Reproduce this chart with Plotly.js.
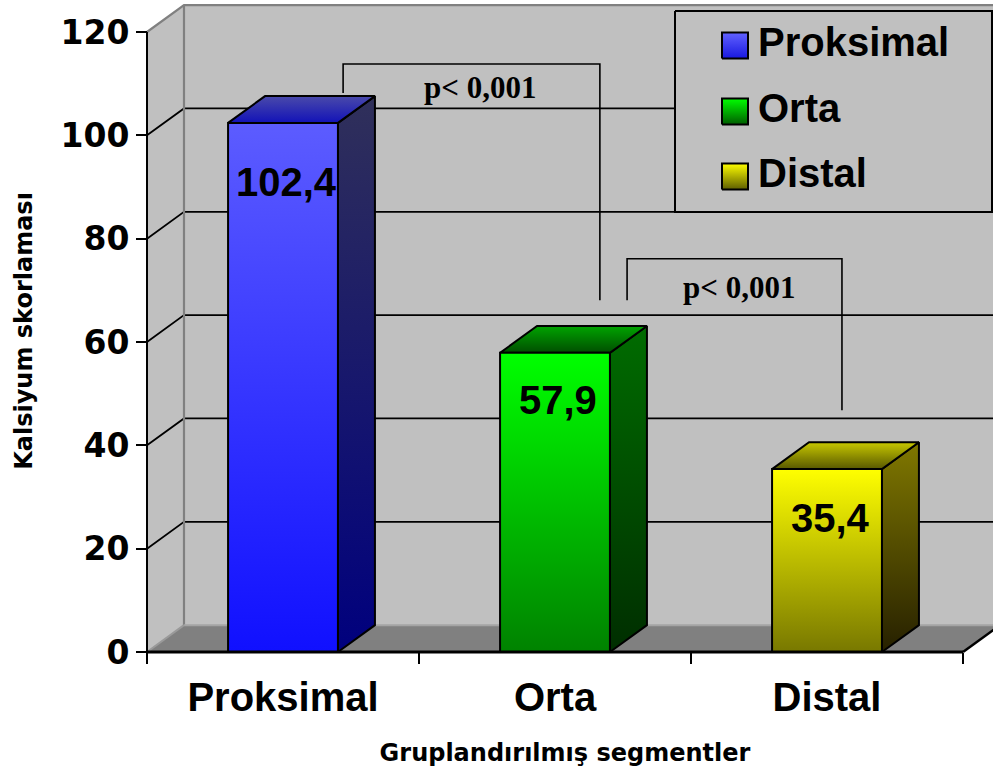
<!DOCTYPE html>
<html>
<head>
<meta charset="utf-8">
<script src="https://cdn.plot.ly/plotly-3.0.1.min.js"></script>
<style>
  html, body { margin: 0; padding: 0; background: #ffffff; }
  #chart { width: 993px; height: 773px; }
</style>
</head>
<body>
<div id="chart"></div>
<script>
// Mean calcium score per grouped segment
const segments = ['Proksimal', 'Orta', 'Distal'];
const scores = [102.4, 57.9, 35.4];
const yTicks = [0, 20, 40, 60, 80, 100, 120];
const pText = 'p< 0,001';

// ---- drawing constants ----
const BAR_W = 0.404;          // front face width (category units)
const DX = 0.136, DY = 5.2;   // 3-D depth offset (x units, y units)
const WALL_TOP = 120;
const X_FAR = 3.3;            // back wall runs past the right edge
const SANS = 'Liberation Sans, Arial, sans-serif';
const WIDE = 'DejaVu Sans, Verdana, sans-serif';
const SERIF = 'Liberation Serif, Times New Roman, serif';
const LABEL_SHIFT = [-59, -47, -49];   // vertical offset of each value label below its bar top (px)

// per-series face colours, listed bottom -> top
const faceColors = [
  { front: [[0, '#1010ff'], [1, '#5c5cff']], side: [[0, '#00007e'], [1, '#30305a']], top: [[0, '#1212b8'], [1, '#4a4aaa']] },
  { front: [[0, '#008200'], [1, '#00ff00']], side: [[0, '#002e00'], [1, '#006c00']], top: [[0, '#004e00'], [1, '#00a400']] },
  { front: [[0, '#787800'], [1, '#ffff00']], side: [[0, '#262000'], [1, '#807800']], top: [[0, '#585800'], [1, '#c8c800']] }
];
const legendColors = [
  [[0, '#1818e0'], [1, '#6262ff']],
  [[0, '#005c00'], [1, '#00ff00']],
  [[0, '#5e5e00'], [1, '#ffff00']]
];

// significance brackets: left x, right x, top y, left foot y, right foot y, label x, label y
const comparisonBrackets = [
  { x0: 0.221, x1: 1.165, top: 113.8, foot0: 108.2, foot1: 68.1, tx: 0.724, ty: 109.3 },
  { x0: 1.265, x1: 2.055, top: 76.1, foot0: 68.1, foot1: 46.8, tx: 1.677, ty: 70.5 }
];

function poly(xs, ys, fill, line) {
  return {
    type: 'scatter', mode: 'lines', x: xs, y: ys, fill: 'toself',
    fillcolor: fill, line: line || { width: 0 }, hoverinfo: 'skip', showlegend: false
  };
}
function gradPoly(xs, ys, scale, xa, ya) {
  const t = poly(xs, ys, scale[scale.length - 1][1], { color: '#000', width: 2 });
  t.fillgradient = { type: 'vertical', colorscale: scale };
  if (xa) { t.xaxis = xa; t.yaxis = ya; }
  return t;
}
function path(pts, color, width) {
  const xs = [], ys = [];
  pts.forEach(p => { if (p === null) { xs.push(null); ys.push(null); } else { xs.push(p[0]); ys.push(p[1]); } });
  return { type: 'scatter', mode: 'lines', x: xs, y: ys, line: { color: color, width: width },
           connectgaps: false, hoverinfo: 'skip', showlegend: false };
}

const L = -0.5, R = segments.length - 0.5;
const traces = [];

// walls (left side wall + back wall)
traces.push(poly([L, L + DX, X_FAR, X_FAR, L + DX, L, L],
                 [0, DY, DY, WALL_TOP + DY, WALL_TOP + DY, WALL_TOP, 0], '#c0c0c0'));

// gridlines running across the side wall and the back wall
const grid = [];
yTicks.filter(v => v > 0 && v < WALL_TOP).forEach(v => {
  grid.push([L, v], [L + DX, v + DY], [X_FAR, v + DY], null);
});
traces.push(path(grid, '#000000', 1.8));

// wall edges
traces.push(path([[L, WALL_TOP], [L + DX, WALL_TOP + DY], [X_FAR, WALL_TOP + DY], null,
                  [L + DX, DY], [L + DX, WALL_TOP + DY]], '#808080', 2.2));

// floor
traces.push(poly([L, R, R + DX, L + DX, L], [0, 0, DY, DY, 0], '#808080'));
traces.push(path([[L + DX, DY], [X_FAR, DY]], '#a4a4a4', 2));
traces.push(path([[L, 0], [L + DX, DY]], '#9a9a9a', 2));
traces.push(path([[R, 0], [R + DX, DY]], '#000000', 2.5));

// 3-D bars: front, side and top faces
scores.forEach((v, i) => {
  const a = i - BAR_W / 2, b = i + BAR_W / 2;
  const c = faceColors[i];
  traces.push(gradPoly([b, b + DX, b + DX, b, b], [0, DY, v + DY, v, 0], c.side));
  traces.push(gradPoly([a, b, b + DX, a + DX, a], [v, v, v + DY, v + DY, v], c.top));
  traces.push(gradPoly([a, b, b, a, a], [0, 0, v, v, 0], c.front));
});

// axis lines
traces.push(path([[L, 0], [R, 0]], '#000000', 3));
traces.push(path([[L, 0], [L, WALL_TOP]], '#000000', 2));

// brackets
comparisonBrackets.forEach(br => {
  traces.push(path([[br.x0, br.foot0], [br.x0, br.top], [br.x1, br.top], [br.x1, br.foot1]], '#000000', 1.6));
});

// legend, drawn on an overlay axis pair measured in pixels
const LG = { left: 675, right: 992, top: 11, bottom: 212, sqLeft: 722, sq: 26, textX: 758, rows: [45.5, 111.5, 176.5] };
traces.push(Object.assign(poly([LG.left, LG.right, LG.right, LG.left, LG.left],
                               [LG.top, LG.top, LG.bottom, LG.bottom, LG.top], '#c0c0c0',
                               { color: '#000', width: 2 }), { xaxis: 'x2', yaxis: 'y2' }));
segments.forEach((s, i) => {
  const cy = LG.rows[i], h = LG.sq / 2;
  traces.push(gradPoly([LG.sqLeft, LG.sqLeft + LG.sq, LG.sqLeft + LG.sq, LG.sqLeft, LG.sqLeft],
                       [cy + h, cy + h, cy - h, cy - h, cy + h], legendColors[i], 'x2', 'y2'));
});
traces.push({
  type: 'scatter', mode: 'text', xaxis: 'x2', yaxis: 'y2',
  x: segments.map(() => LG.textX), y: LG.rows, text: segments,
  textposition: 'middle right', cliponaxis: false,
  textfont: { family: SANS, size: 40, color: '#000', weight: 'bold' },
  hoverinfo: 'skip', showlegend: false
});

// value labels and p-value labels
const annotations = scores.map((v, i) => ({
  x: i, y: v, xref: 'x', yref: 'y', yshift: LABEL_SHIFT[i], xshift: 3, showarrow: false,
  text: v.toFixed(1).replace('.', ','),
  font: { family: SANS, size: 40, color: '#000', weight: 'bold' }
}));
comparisonBrackets.forEach(br => annotations.push({
  x: br.tx, y: br.ty, xref: 'x', yref: 'y', showarrow: false, text: pText,
  font: { family: SERIF, size: 31, color: '#000', weight: 'bold' }
}));

const PX_X = 272, PX_Y = 620 / 120;   // pixels per unit
const layout = {
  width: 993, height: 773,
  margin: { l: 137, r: 0, t: 0, b: 111, pad: 0 },
  paper_bgcolor: '#ffffff', plot_bgcolor: '#ffffff',
  showlegend: false, hovermode: false,
  xaxis: {
    range: [L - 10 / PX_X, L + 846 / PX_X], anchor: 'free', position: 10 / 662,
    tickmode: 'array', tickvals: segments.map((_, i) => i), ticktext: segments,
    ticks: '', showline: false, showgrid: false, zeroline: false, automargin: false,
    tickfont: { family: SANS, size: 40, color: '#000', weight: 'bold' },
    ticklabelstandoff: 18,
    minor: { tickmode: 'array', tickvals: [-0.5, 0.5, 1.5, 2.5], ticks: 'outside',
             ticklen: 11, tickwidth: 2, tickcolor: '#000', showgrid: false },
    title: { text: 'Gruplandırılmış segmentler', standoff: 26,
             font: { family: WIDE, size: 24, color: '#000', weight: 'bold' } }
  },
  yaxis: {
    range: [-10 / PX_Y, 652 / PX_Y], anchor: 'free', position: 10 / 856,
    tickmode: 'array', tickvals: yTicks, ticks: 'outside', ticklen: 11, tickwidth: 2, tickcolor: '#000',
    showline: false, showgrid: false, zeroline: false, automargin: false,
    tickfont: { family: WIDE, size: 33, color: '#000', weight: 'bold' },
    ticklabelstandoff: 0,
    title: { text: 'Kalsiyum skorlaması', standoff: 20,
             font: { family: WIDE, size: 24, color: '#000', weight: 'bold' } }
  },
  xaxis2: { overlaying: 'x', anchor: 'y2', range: [137, 993], visible: false, fixedrange: true },
  yaxis2: { overlaying: 'y', anchor: 'x2', range: [662, 0], visible: false, fixedrange: true },
  annotations: annotations
};

Plotly.newPlot('chart', traces, layout, { staticPlot: true, displayModeBar: false });
</script>
</body>
</html>
